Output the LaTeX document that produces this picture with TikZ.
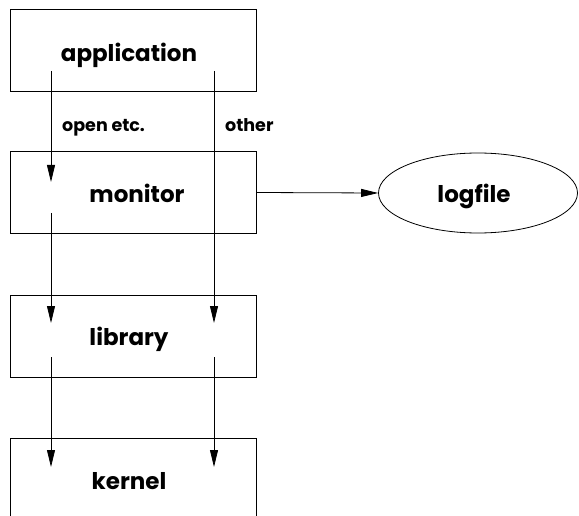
\documentclass[tikz,border=0pt]{standalone}
\usepackage{fontspec}
\setmainfont{Poppins}
\usetikzlibrary{arrows.meta,shapes.geometric}
\tikzset{
  layer/.style={draw, line width=0.8pt, minimum width=246pt, minimum height=82pt, inner sep=0pt},
  tag/.style={inner sep=0pt, anchor=base, font=\fontsize{23}{27}\selectfont\bfseries},
  small/.style={inner sep=0pt, anchor=base west, font=\fontsize{17.5}{21}\selectfont\bfseries},
  flow/.style={line width=0.8pt, -{Triangle[length=17pt,width=8pt]}},
}
\begin{document}
\begin{tikzpicture}[x=1pt,y=-1pt]
\useasboundingbox (0,0) rectangle (579,516);
% layers
\node[layer] (app) at (133,50) {};
\node[layer] (mon) at (133,192.5) {};
\node[layer] (lib) at (133,336) {};
\node[layer] (ker) at (133,479) {};
\node[draw, ellipse, line width=0.8pt, minimum width=199pt, minimum height=80pt, inner sep=0pt] (log) at (478,193) {};
% layer names
\node[tag] (appT) at (129,62) {application};
\node[tag] (monT) at (137,202.5) {monitor};
\node[tag] (libT) at (129,345) {library};
\node[tag] (kerT) at (129,489) {kernel};
\node[tag] (logT) at (474,202.5) {logfile};
% call labels
\node[small] (openT) at (62,131.5) {open etc.};
\node[small] (otherT) at (225,131.5) {other};
% call path end points
\coordinate (a1) at (51,71);  \coordinate (a2) at (214,71);
\coordinate (m1in) at (51,182); \coordinate (m1out) at (51,213);
\coordinate (l1in) at (51,323); \coordinate (l1out) at (51,357);
\coordinate (l2in) at (214,323); \coordinate (l2out) at (214,357);
\coordinate (k1in) at (51,467); \coordinate (k2in) at (214,467);
% open etc. path through the monitor
\draw[flow] (a1) -- (m1in);
\draw[flow] (m1out) -- (l1in);
\draw[flow] (l1out) -- (k1in);
% other calls bypass the monitor
\draw[flow] (a2) -- (l2in);
\draw[flow] (l2out) -- (k2in);
% logging
\draw[flow] (mon.east) -- (log.west);
\end{tikzpicture}
\end{document}
